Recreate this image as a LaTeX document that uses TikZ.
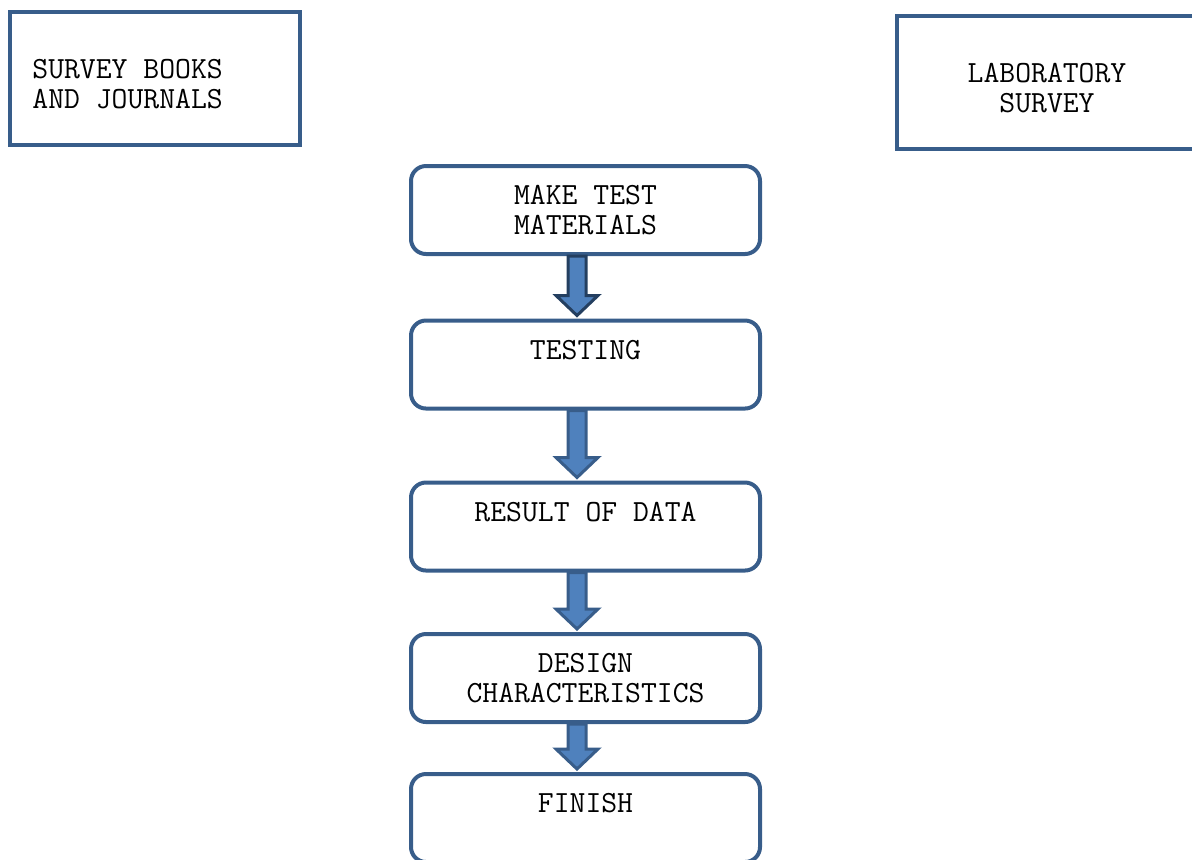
\documentclass[tikz,border=0pt]{standalone}
\usepackage{fontspec}
\usepackage{xcolor}
\usepackage{tikz}
\usetikzlibrary{calc}
\definecolor{BoxLine}{RGB}{56,93,138}
\definecolor{ArrowFill}{RGB}{79,129,189}
\definecolor{ArrowDark}{RGB}{36,63,96}
\newcommand{\BoxFont}{\ttfamily\fontsize{15.4}{15}\selectfont}
\tikzset{
  plainbox/.style={draw=BoxLine,line width=2pt,minimum height=66.5pt},
  flowbox/.style={draw=BoxLine,line width=2pt,rounded corners=7.5pt,
    minimum width=174.5pt,minimum height=44pt,align=center,font=\BoxFont},
  boxtext/.style={font=\BoxFont,inner sep=0pt}
}
\newcommand{\FlowArrow}[3][ArrowLine]{% style from to
\draw[line width=1.5pt,draw=#1,fill=ArrowFill,line join=miter]
  ($(#2.south)+(-17.5,0)$) -- ($(#3.north)+(-17.5,-23)$)
  -- ($(#3.north)+(-29.5,-23)$) -- ($(#3.north)+(-8.5,-3)$)
  -- ($(#3.north)+(12.5,-23)$) -- ($(#3.north)+(0.5,-23)$)
  -- ($(#2.south)+(0.5,0)$) -- cycle;
}
\colorlet{ArrowLine}{BoxLine}

\begin{document}
\begin{tikzpicture}[x=0.5pt,y=-0.5pt]
\useasboundingbox (0,0) rectangle (1192,859);
% top boxes
\node[plainbox,minimum width=145pt] (survey) at (155,78.5) {};
\node[boxtext,anchor=west,align=left] (surveytext) at (32,84) {SURVEY BOOKS\\AND JOURNALS};
\node[plainbox,minimum width=150pt] (lab) at (1047,82.5) {};
\node[boxtext,align=center] (labtext) at (1047,88) {LABORATORY\\SURVEY};
% flow
\node[flowbox] (make) at (585.5,210) {MAKE TEST\\MATERIALS};
\node[flowbox] (testing) at (585.5,364.5) {TESTING\\\mbox{}};
\node[flowbox] (result) at (585.5,526.5) {RESULT OF DATA\\\mbox{}};
\node[flowbox] (design) at (585.5,678) {DESIGN\\CHARACTERISTICS};
\node[flowbox] (finish) at (585.5,818) {FINISH\\\mbox{}};
% arrows
\FlowArrow[ArrowDark]{make}{testing}
\FlowArrow{testing}{result}
\FlowArrow{result}{design}
\FlowArrow{design}{finish}
\end{tikzpicture}
\end{document}
